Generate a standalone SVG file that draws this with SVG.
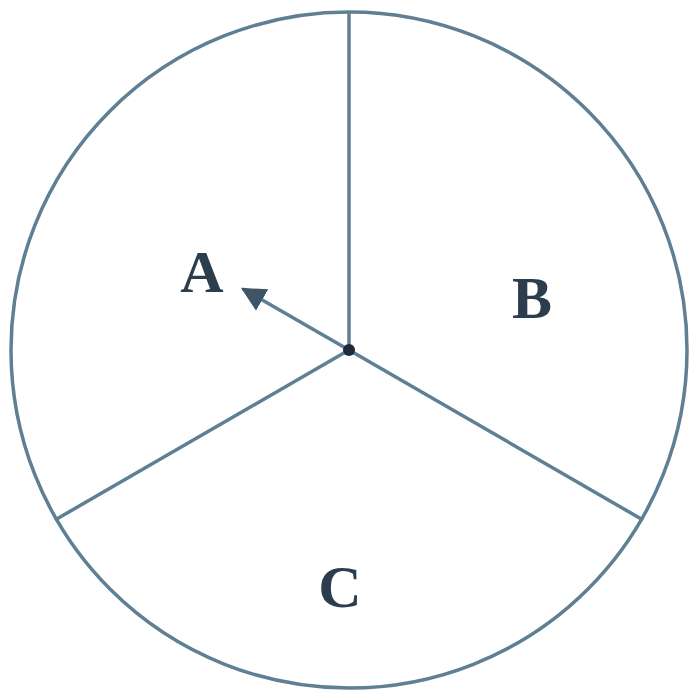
<svg xmlns="http://www.w3.org/2000/svg" width="693" height="692" viewBox="0 0 693 692">
<defs>
<marker id="ah" viewBox="0 0 10 10" refX="9" refY="5" markerWidth="7" markerHeight="7" markerUnits="strokeWidth" orient="auto">
<path d="M0,0 L10,5 L0,10 z" fill="#3d5566"/>
</marker>
<style>
.ln{stroke:#5f7f94;stroke-width:3.5;fill:none}
.lb{font-family:"Liberation Serif",serif;font-weight:bold;font-size:60px;fill:#2c3e4e}
</style>
</defs>
<rect width="693" height="692" fill="#fff"/>
<g id="circle"><circle cx="349" cy="350" r="338" class="ln"/></g>
<g id="connectors">
<line x1="349" y1="350" x2="349" y2="12" class="ln"/>
<line x1="349" y1="350" x2="55" y2="520" class="ln"/>
<line x1="349" y1="350" x2="643" y2="520" class="ln"/>
<line x1="349" y1="350" x2="243" y2="289" class="ln" stroke="#4d6a7e" marker-end="url(#ah)"/>
<circle cx="349" cy="350" r="6" fill="#1e2a3a"/>
</g>
<g id="A"><text x="202" y="292" class="lb" text-anchor="middle">A</text></g>
<g id="B"><text x="532" y="318" class="lb" text-anchor="middle">B</text></g>
<g id="C"><text x="340" y="607" class="lb" text-anchor="middle">C</text></g>
</svg>
